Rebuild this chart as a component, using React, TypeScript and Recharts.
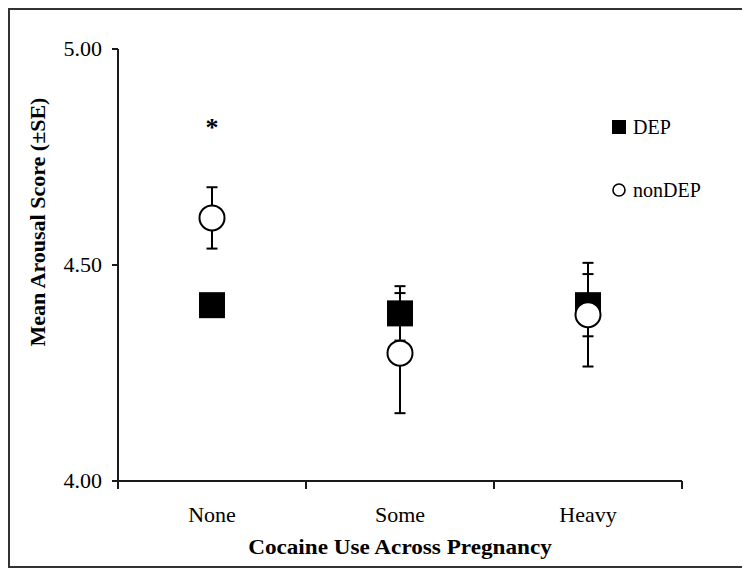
import {
  ScatterChart,
  Scatter,
  XAxis,
  YAxis,
  ErrorBar,
  ReferenceDot,
} from 'recharts';

const categories = ['None', 'Some', 'Heavy'];
const depMean = [4.407, 4.388, 4.407];
const depSE = [0.02, 0.063, 0.072];
const nonDepMean = [4.609, 4.296, 4.385];
const nonDepSE = [0.071, 0.139, 0.12];
const yTicks = [4, 4.5, 5];
const xTicks = [0.5, 1, 1.5, 2, 2.5, 3, 3.5];
const seriesNames = ['DEP', 'nonDEP'];
const sigMark = { x: 1, y: 4.83, text: '*' };

const FONT = '"Liberation Serif", "Times New Roman", serif';
const INK = '#1a1a1a';

const depData = categories.map((c, i) => ({ x: i + 1, y: depMean[i], se: depSE[i] }));
const nonDepData = categories.map((c, i) => ({ x: i + 1, y: nonDepMean[i], se: nonDepSE[i] }));

const SquareShape = (props: any) => {
  const { cx, cy } = props;
  return <rect x={cx - 13} y={cy - 13} width={26} height={26} fill="#000" />;
};

const CircleShape = (props: any) => {
  const { cx, cy } = props;
  return <circle cx={cx} cy={cy} r={12.5} fill="#fff" stroke="#000" strokeWidth={2} />;
};

const XTick = (props: any) => {
  const { x, y, payload } = props;
  const v = payload.value;
  if (Number.isInteger(v)) {
    return (
      <text
        transform={`translate(${x},${y + 41}) scale(1.1,1)`}
        textAnchor="middle"
        fontFamily={FONT}
        fontSize={20}
        fill="#000"
      >
        {categories[v - 1]}
      </text>
    );
  }
  return <line x1={x} y1={y} x2={x} y2={y + 8} stroke={INK} strokeWidth={2} />;
};

const YTick = (props: any) => {
  const { x, y, payload } = props;
  return (
    <text
      transform={`translate(${x},${y + 7}) scale(1.1,1)`}
      textAnchor="end"
      fontFamily={FONT}
      fontSize={20}
      fill="#000"
    >
      {Number(payload.value).toFixed(2)}
    </text>
  );
};

const XTitle = (props: any) => {
  const vb = props.viewBox || { x: 108, y: 471, width: 564, height: 85 };
  const cx = vb.x + vb.width / 2;
  const by = vb.y + 73;
  return (
    <text
      transform={`translate(${cx},${by}) scale(1.16,1)`}
      textAnchor="middle"
      fontFamily={FONT}
      fontWeight="bold"
      fontSize={20}
      fill="#000"
    >
      Cocaine Use Across Pregnancy
    </text>
  );
};

const YTitle = (props: any) => {
  const vb = props.viewBox || { x: 0, y: 39, width: 108, height: 432 };
  const cx = vb.x + 28;
  const cy = vb.y + vb.height / 2 - 43;
  return (
    <text
      transform={`translate(${cx + 7},${cy}) rotate(-90) scale(1.1,1)`}
      textAnchor="middle"
      fontFamily={FONT}
      fontWeight="bold"
      fontSize={20}
      fill="#000"
    >
      Mean Arousal Score (±SE)
    </text>
  );
};

const Asterisk = (props: any) => {
  const { cx, cy } = props;
  return (
    <text x={cx} y={cy + 14} textAnchor="middle" fontFamily={FONT} fontWeight="bold" fontSize={26} fill="#000">
      {sigMark.text}
    </text>
  );
};

export default function App() {
  return (
    <div
      style={{
        position: 'relative',
        width: 736,
        height: 560,
        border: '2px solid #333',
        boxSizing: 'border-box',
        background: '#fff',
        fontFamily: FONT,
      }}
    >
      <ScatterChart
        width={732}
        height={556}
        margin={{ top: 39, right: 60, left: 0, bottom: 0 }}
      >
        <XAxis
          dataKey="x"
          type="number"
          domain={[0.5, 3.5]}
          ticks={xTicks}
          interval={0}
          allowDataOverflow
          height={85}
          tickSize={0}
          tickMargin={0}
          tickLine={false}
          axisLine={{ stroke: INK, strokeWidth: 2 }}
          tick={<XTick />}
          label={XTitle}
        />
        <YAxis
          dataKey="y"
          type="number"
          domain={[4, 5]}
          ticks={yTicks}
          interval={0}
          width={108}
          tickSize={6}
          tickMargin={10}
          axisLine={{ stroke: INK, strokeWidth: 2 }}
          tickLine={{ stroke: INK, strokeWidth: 2 }}
          tick={<YTick />}
          label={YTitle}
        />
        <Scatter
          name={seriesNames[0]}
          data={depData}
          shape={<SquareShape />}
          isAnimationActive={false}
        >
          <ErrorBar dataKey="se" direction="y" width={5.5} stroke="#000" strokeWidth={2} />
        </Scatter>
        <Scatter
          name={seriesNames[1]}
          data={nonDepData}
          shape={<CircleShape />}
          isAnimationActive={false}
        >
          <ErrorBar dataKey="se" direction="y" width={5.5} stroke="#000" strokeWidth={2} />
        </Scatter>
        <ReferenceDot x={sigMark.x} y={sigMark.y} r={1} shape={<Asterisk />} />
      </ScatterChart>
      <div style={{ position: 'absolute', left: 602, top: 110 }}>
        {seriesNames.map((name, i) => (
          <div
            key={name}
            style={{
              display: 'flex',
              alignItems: 'center',
              height: 14,
              marginBottom: 49,
              fontSize: 20,
              color: '#000',
              whiteSpace: 'nowrap',
            }}
          >
            <svg width={14} height={14} style={{ marginRight: 7, flex: 'none' }}>
              {i === 0 ? (
                <rect x={0} y={0} width={14} height={14} fill="#000" />
              ) : (
                <circle cx={7} cy={7} r={6} fill="#fff" stroke="#000" strokeWidth={1.6} />
              )}
            </svg>
            <span>{name}</span>
          </div>
        ))}
      </div>
    </div>
  );
}
